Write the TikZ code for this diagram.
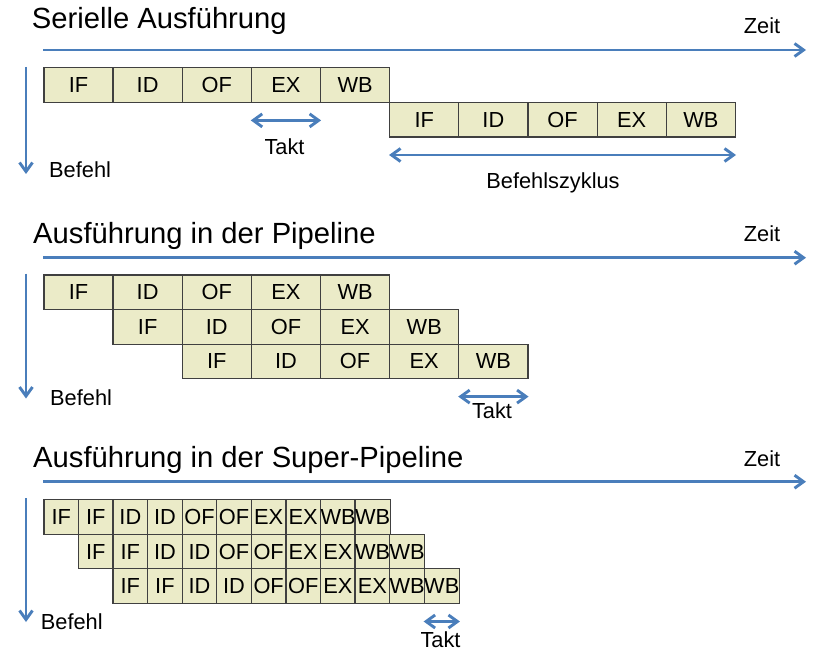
\documentclass[tikz,border=0pt]{standalone}
\usepackage{fontspec}
\setmainfont{Liberation Sans}
\usetikzlibrary{arrows.meta,calc}
\definecolor{stagefill}{RGB}{235,235,200}
\definecolor{stageline}{RGB}{64,64,64}
\definecolor{axisblue}{RGB}{74,126,187}
\newcommand\cellfont{\fontsize{21.8}{24}\selectfont}
\newcommand\headfont{\fontsize{29.2}{32}\selectfont}
\tikzset{
  stage/.style={draw=stageline, fill=stagefill, line width=1.2pt, inner sep=0pt,
    minimum width=69.15pt, minimum height=34.6pt, anchor=north west, font=\cellfont},
  halfstage/.style={stage, minimum width=34.575pt},
  barb/.tip={Straight Barb[length=9pt,width=13pt]},
  timeaxis/.style={draw=axisblue, line width=2.9pt, -barb},
  spanarrow/.style={draw=axisblue, line width=2.9pt, barb-barb},
  heading/.style={anchor=base west, inner sep=0pt, font=\headfont},
  axistext/.style={anchor=base, inner sep=0pt, font=\cellfont},
  sidetext/.style={anchor=base west, inner sep=0pt, font=\cellfont},
}
\begin{document}
\begin{tikzpicture}[x=1pt,y=-1pt]
\useasboundingbox (0,0) rectangle (821,655);

% ---------- serial execution ----------
\node[heading] (title1) at (31.7,29) {Serielle Ausführung};
\coordinate (t1s) at (43,50);
\coordinate (t1e) at (806,50);
\draw[timeaxis] (t1s) -- (t1e);
\node[axistext] (zeit1) at (762,34) {Zeit};
\coordinate (b1s) at (26,67);
\coordinate (b1e) at (26,174);
\draw[timeaxis] (b1s) -- (b1e);
\node[sidetext] (befehl1) at (49,178) {Befehl};

\foreach \lab [count=\c from 0] in {IF,ID,OF,EX,WB} {
  \node[stage] (ser-1-\c) at ({43.3+\c*69.15},67.3) {\lab};
  \node[stage] (ser-2-\c) at ({43.3+(\c+5)*69.15},101.9) {\lab};
}
\draw[spanarrow] ($(ser-1-3.south west)+(0,17.3)$) -- ($(ser-1-3.south east)+(0,17.3)$);
\node[axistext] (takt1) at (284.5,154.5) {Takt};
\draw[spanarrow] ($(ser-2-0.south west)+(0,17.3)$) -- ($(ser-2-4.south east)+(0,17.3)$);
\node[axistext] (zyklus) at (553,189) {Befehlszyklus};

% ---------- pipeline ----------
\node[heading] (title2) at (33,243) {Ausführung in der Pipeline};
\coordinate (t2s) at (43,257.7);
\coordinate (t2e) at (806,257.7);
\draw[timeaxis] (t2s) -- (t2e);
\node[axistext] (zeit2) at (762,241) {Zeit};
\coordinate (b2s) at (26,273.5);
\coordinate (b2e) at (26,398.5);
\draw[timeaxis] (b2s) -- (b2e);
\node[sidetext] (befehl2) at (50,405) {Befehl};

\foreach \r in {0,1,2} {
  \foreach \lab [count=\c from 0] in {IF,ID,OF,EX,WB} {
    \node[stage] (pip-\r-\c) at ({43.3+(\r+\c)*69.15},{274.3+\r*34.6}) {\lab};
  }
}
\draw[spanarrow] ($(pip-2-4.south west)+(0,17.3)$) -- ($(pip-2-4.south east)+(0,17.3)$);
\node[axistext] (takt2) at (492,418) {Takt};

% ---------- super pipeline ----------
\node[heading] (title3) at (33,467) {Ausführung in der Super-Pipeline};
\coordinate (t3s) at (43,481.7);
\coordinate (t3e) at (806,481.7);
\draw[timeaxis] (t3s) -- (t3e);
\node[axistext] (zeit3) at (762,466) {Zeit};
\coordinate (b3s) at (26,498);
\coordinate (b3e) at (26,622);
\draw[timeaxis] (b3s) -- (b3e);
\node[sidetext] (befehl3) at (40.7,629) {Befehl};

\foreach \r in {0,1,2} {
  \foreach \lab [count=\c from 0] in {IF,IF,ID,ID,OF,OF,EX,EX,WB,WB} {
    \node[halfstage] (sup-\r-\c) at ({43.3+(\r+\c)*34.575},{499+\r*34.6}) {\lab};
  }
}
\draw[spanarrow] ($(sup-2-9.south west)+(0,17.5)$) -- ($(sup-2-9.south east)+(0,17.5)$);
\node[axistext] (takt3) at (440.5,647) {Takt};
\end{tikzpicture}
\end{document}
